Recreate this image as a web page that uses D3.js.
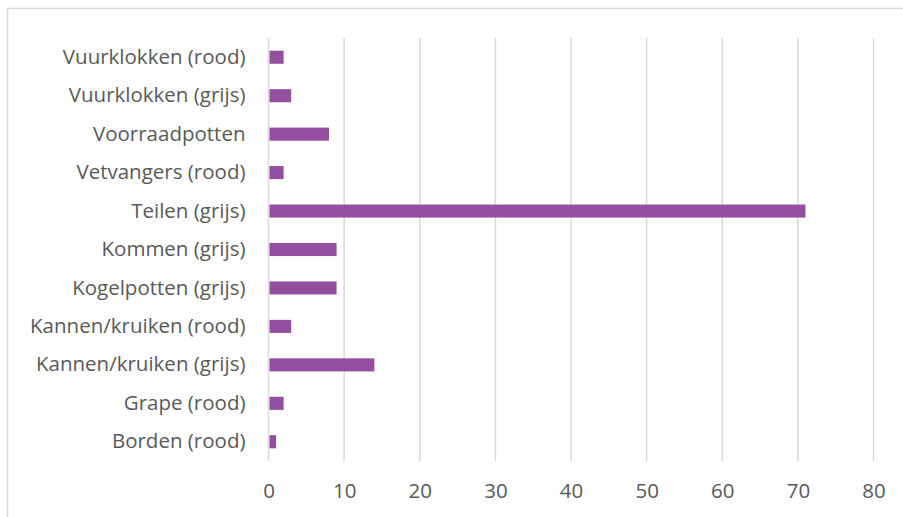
<!DOCTYPE html>
<html>
<head>
<meta charset="utf-8">
<script src="https://cdn.jsdelivr.net/npm/d3@7"></script>
<style>
  html, body { margin: 0; padding: 0; background: #fff; }
  svg { display: block; }
  text { font-family: "Open Sans", Lato, sans-serif; fill: #595959; }
</style>
</head>
<body>
<script>
// Categories, top to bottom
const categories = [
  "Vuurklokken (rood)",
  "Vuurklokken (grijs)",
  "Voorraadpotten",
  "Vetvangers (rood)",
  "Teilen (grijs)",
  "Kommen (grijs)",
  "Kogelpotten (grijs)",
  "Kannen/kruiken (rood)",
  "Kannen/kruiken (grijs)",
  "Grape (rood)",
  "Borden (rood)"
];
const counts = [2, 3, 8, 2, 71, 9, 9, 3, 14, 2, 1];
const xTicks = [0, 10, 20, 30, 40, 50, 60, 70, 80];

const width = 903, height = 517;
const margin = { top: 38, right: 29.5, bottom: 56, left: 268.5 };
const fontStack = "'Open Sans', Lato, sans-serif";
const fontSize = "20.5px";

const svg = d3.select("body").append("svg")
  .attr("width", width).attr("height", height);

// chart area frame
svg.append("rect")
  .attr("x", 7.5).attr("y", 8.5)
  .attr("width", width).attr("height", height)
  .attr("fill", "none").attr("stroke", "#d9d9d9").attr("stroke-width", 1.5);

const x = d3.scaleLinear().domain([0, 80])
  .range([margin.left, width - margin.right]);
const y = d3.scaleBand().domain(categories)
  .range([margin.top, height - margin.bottom])
  .paddingInner(0.66).paddingOuter(0.33);

// vertical gridlines
svg.append("g").selectAll("line").data(xTicks).join("line")
  .attr("x1", d => x(d)).attr("x2", d => x(d))
  .attr("y1", margin.top).attr("y2", height - margin.bottom)
  .attr("stroke", "#d9d9d9").attr("stroke-width", 1.5);

// bars
svg.append("g").selectAll("rect").data(categories).join("rect")
  .attr("x", x(0) + 1)
  .attr("y", d => y(d))
  .attr("width", (d, i) => x(counts[i]) - x(0) - 1)
  .attr("height", y.bandwidth())
  .attr("fill", "#944fa0");

// category labels
const yAxis = svg.append("g")
  .attr("transform", `translate(${x(0) - 23},0)`)
  .call(d3.axisLeft(y).tickSize(0).tickPadding(0));
yAxis.select(".domain").remove();
yAxis.selectAll("text")
  .style("font-size", fontSize)
  .style("font-family", fontStack)
  .attr("fill", "#595959");

// value axis labels
const xAxis = svg.append("g")
  .attr("transform", `translate(0,${height - margin.bottom})`)
  .call(d3.axisBottom(x).tickValues(xTicks).tickSize(0).tickPadding(22));
xAxis.select(".domain").remove();
xAxis.selectAll("text")
  .style("font-size", fontSize)
  .style("font-family", fontStack)
  .attr("fill", "#595959");
</script>
</body>
</html>
